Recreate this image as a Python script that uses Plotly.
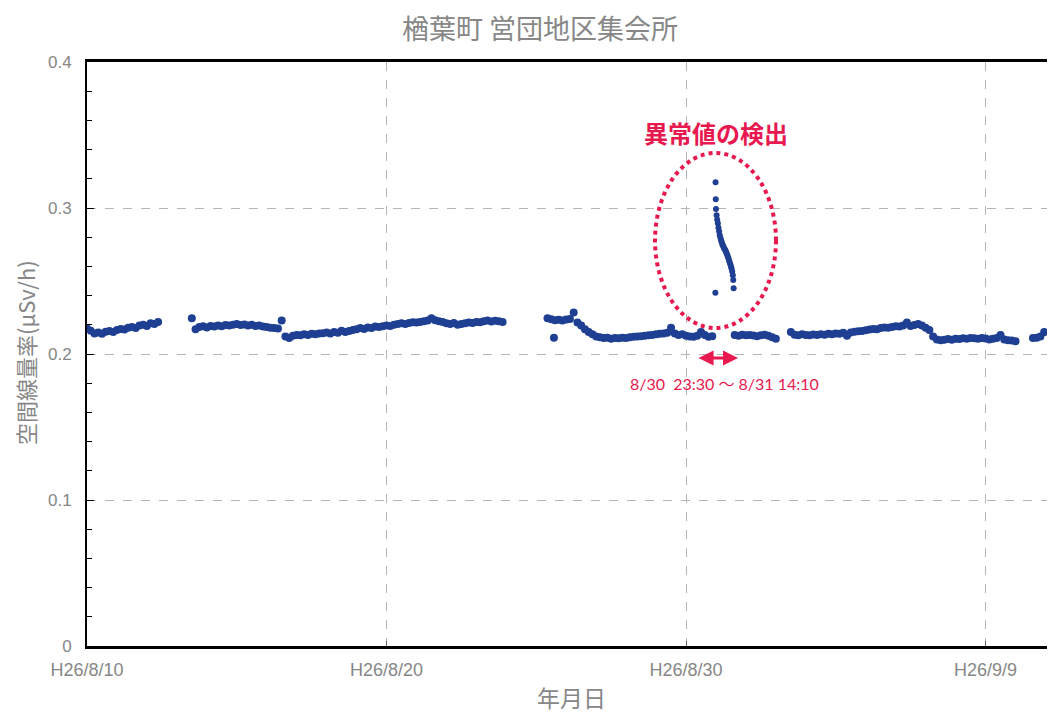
import pandas as pd
import plotly.graph_objects as go

# ---------------- data ----------------
title_text = "楢葉町 営団地区集会所"
x_title = "年月日"
y_title = "空間線量率(μSv/h)"

x_tick_dates = ["2014-08-10", "2014-08-20", "2014-08-30", "2014-09-09"]
x_tick_labels = ["H26/8/10", "H26/8/20", "H26/8/30", "H26/9/9"]
y_tick_vals = [0, 0.1, 0.2, 0.3, 0.4]
y_tick_labels = ["0", "0.1", "0.2", "0.3", "0.4"]

sample_step = "3h"

seg_a_start = "2014-08-10 00:00"
seg_a_vals = [0.2175, 0.2160, 0.2140, 0.2148, 0.2138, 0.2152, 0.2158, 0.2150, 0.2165, 0.2172,
              0.2168, 0.2180, 0.2185, 0.2178, 0.2195, 0.2200, 0.2192, 0.2210, 0.2205, 0.2220]

seg_b_start = "2014-08-13 12:00"
seg_b_vals = [0.2245, 0.2170, 0.2185, 0.2190, 0.2182, 0.2192, 0.2188, 0.2195, 0.2190, 0.2198,
              0.2195, 0.2200, 0.2205, 0.2198, 0.2202, 0.2196, 0.2200, 0.2192, 0.2195, 0.2188,
              0.2185, 0.2180, 0.2178, 0.2175, 0.2230, 0.2120, 0.2110, 0.2125, 0.2130, 0.2128,
              0.2135, 0.2130, 0.2138, 0.2135, 0.2140, 0.2142, 0.2148, 0.2140, 0.2150, 0.2146,
              0.2160, 0.2150, 0.2158, 0.2165, 0.2170, 0.2178, 0.2172, 0.2182, 0.2178, 0.2188,
              0.2185, 0.2190, 0.2195, 0.2192, 0.2200, 0.2205, 0.2210, 0.2205, 0.2212, 0.2218,
              0.2215, 0.2220, 0.2225, 0.2230, 0.2245, 0.2232, 0.2225, 0.2220, 0.2210, 0.2205,
              0.2212, 0.2200, 0.2205, 0.2210, 0.2215, 0.2212, 0.2220, 0.2218, 0.2225, 0.2230,
              0.2222, 0.2228, 0.2225, 0.2220]

seg_c_start = "2014-08-25 09:00"
seg_c_vals = [0.2245, 0.2238, 0.2232, 0.2235, 0.2230, 0.2236, 0.2240, 0.2285, 0.2215, 0.2195,
              0.2170, 0.2150, 0.2135, 0.2120, 0.2115, 0.2110, 0.2112, 0.2105, 0.2110, 0.2108,
              0.2112, 0.2110, 0.2115, 0.2118, 0.2120, 0.2122, 0.2125, 0.2128, 0.2130, 0.2135,
              0.2138, 0.2140, 0.2145, 0.2180, 0.2140, 0.2130, 0.2135, 0.2125, 0.2120, 0.2118,
              0.2125, 0.2150, 0.2130, 0.2118, 0.2122]

seg_d_start = "2014-08-31 15:00"
seg_d_vals = [0.2130, 0.2125, 0.2132, 0.2128, 0.2130, 0.2126, 0.2122, 0.2128, 0.2132, 0.2125,
              0.2115, 0.2105]

seg_e_start = "2014-09-02 12:00"
seg_e_vals = [0.2150, 0.2132, 0.2128, 0.2135, 0.2130, 0.2128, 0.2134, 0.2130, 0.2136, 0.2132,
              0.2138, 0.2135, 0.2140, 0.2138, 0.2145, 0.2125, 0.2148, 0.2152, 0.2155, 0.2158,
              0.2162, 0.2168, 0.2172, 0.2170, 0.2178, 0.2182, 0.2180, 0.2185, 0.2190, 0.2188,
              0.2195, 0.2215, 0.2192, 0.2198, 0.2205, 0.2195, 0.2180, 0.2165, 0.2120, 0.2100,
              0.2095, 0.2098, 0.2102, 0.2098, 0.2105, 0.2102, 0.2108, 0.2105, 0.2110, 0.2108,
              0.2105, 0.2110, 0.2106, 0.2100, 0.2104, 0.2110, 0.2130, 0.2100, 0.2095, 0.2092,
              0.2088]

seg_f_start = "2014-09-10 14:00"
seg_f_vals = [0.2110, 0.2112, 0.2120, 0.2150]

extra_times = ["2014-08-25 14:10"]
extra_vals = [0.2112]

spike_times = ["2014-08-30 23:30", "2014-08-30 23:40", "2014-08-30 23:50", "2014-08-31 00:00",
               "2014-08-31 00:30", "2014-08-31 01:00", "2014-08-31 01:30", "2014-08-31 02:00",
               "2014-08-31 02:30", "2014-08-31 03:00", "2014-08-31 03:30", "2014-08-31 04:00",
               "2014-08-31 04:30", "2014-08-31 05:00", "2014-08-31 05:30", "2014-08-31 06:00",
               "2014-08-31 06:30", "2014-08-31 07:00", "2014-08-31 07:30", "2014-08-31 08:00",
               "2014-08-31 08:30", "2014-08-31 09:00", "2014-08-31 09:30", "2014-08-31 10:00",
               "2014-08-31 10:30", "2014-08-31 11:00", "2014-08-31 11:30", "2014-08-31 12:00",
               "2014-08-31 12:30", "2014-08-31 13:00", "2014-08-31 13:30", "2014-08-31 13:50",
               "2014-08-31 14:10"]
spike_vals = [0.2420, 0.3176, 0.3060, 0.2993,
              0.2950, 0.2920, 0.2895, 0.2865,
              0.2840, 0.2815, 0.2798, 0.2782,
              0.2768, 0.2755, 0.2745, 0.2735,
              0.2725, 0.2718, 0.2710, 0.2700,
              0.2690, 0.2680, 0.2668, 0.2655,
              0.2640, 0.2628, 0.2615, 0.2600,
              0.2585, 0.2565, 0.2540, 0.2507,
              0.2450]

anomaly_label = "異常値の検出"
anomaly_period = "8/30  23:30 ～ 8/31 14:10"

# ---------------- build series ----------------
segments = [(seg_a_start, seg_a_vals), (seg_b_start, seg_b_vals), (seg_c_start, seg_c_vals),
            (seg_d_start, seg_d_vals), (seg_e_start, seg_e_vals), (seg_f_start, seg_f_vals)]
main_times = []
main_vals = []
for start, v in segments:
    main_times += list(pd.date_range(start, periods=len(v), freq=sample_step))
    main_vals += v
main_times += list(pd.to_datetime(extra_times))
main_vals += extra_vals

RED = "#e8194f"
BLUE = "#1e3f92"
GRAY = "#878787"

FIG_W, FIG_H = 1047, 705  # page body has an 8px margin

fig = go.Figure()
fig.add_trace(go.Scatter(x=main_times, y=main_vals, mode="markers",
                         marker=dict(color=BLUE, size=8, line=dict(width=0)),
                         showlegend=False, hoverinfo="x+y"))
fig.add_trace(go.Scatter(x=list(pd.to_datetime(spike_times)), y=spike_vals, mode="markers",
                         marker=dict(color=BLUE, size=6, line=dict(width=0)),
                         showlegend=False, hoverinfo="x+y"))

# dotted ellipse around the anomaly
fig.add_shape(type="circle", xref="x", yref="y",
              x0="2014-08-28 23:10", x1="2014-09-02 00:05", y0=0.2178, y1=0.3377,
              line=dict(color=RED, width=4, dash="4px,4px"))

# double-headed arrow for the period
fig.add_annotation(x="2014-08-31 17:40", y=0.1973, ax="2014-08-30 08:50", ay=0.1973,
                   xref="x", yref="y", axref="x", ayref="y", text="",
                   showarrow=True, arrowhead=2, arrowsize=1, arrowwidth=3,
                   arrowcolor=RED, arrowside="end+start", startarrowhead=2, startarrowsize=1)
fig.add_annotation(x="2014-08-31 07:10", y=0.1801, xref="x", yref="y", text=anomaly_period,
                   showarrow=False, font=dict(family="Lato, Noto Sans CJK JP", size=16, color=RED))
fig.add_annotation(x="2014-08-31 00:00", y=0.3514, xref="x", yref="y", text="<b>" + anomaly_label + "</b>",
                   showarrow=False, font=dict(family="Noto Sans CJK JP", size=24, color=RED))

# axis titles
fig.add_annotation(x=0.5, y=-0.0873, xref="paper", yref="paper", text=x_title, showarrow=False,
                   xanchor="center", yanchor="middle",
                   font=dict(family="Noto Sans CJK JP", size=23, color=GRAY))
fig.add_annotation(x=-0.064, y=0.5017, xref="paper", yref="paper", text=y_title, showarrow=False,
                   textangle=-90, xanchor="center", yanchor="middle",
                   font=dict(family="Noto Sans CJK JP", size=22, color=GRAY))

fig.update_layout(
    width=FIG_W, height=FIG_H,
    margin=dict(l=79, r=0, t=54, b=67),
    paper_bgcolor="white", plot_bgcolor="white",
    title=dict(text=title_text, x=532 / FIG_W, xref="container", xanchor="center",
               y=1 - 22 / FIG_H, yref="container", yanchor="middle",
               font=dict(family="Noto Sans CJK JP", size=27, color=GRAY)),
    showlegend=False,
)
fig.update_xaxes(type="date", range=["2014-08-10 00:00", "2014-09-11 07:40"],
                 tickmode="array", tickvals=x_tick_dates, ticktext=x_tick_labels,
                 tickfont=dict(family="Liberation Sans", size=18, color=GRAY),
                 ticklabelstandoff=5,
                 showline=True, linecolor="black", linewidth=3, mirror=True,
                 ticks="inside", ticklen=5, tickcolor="#666",
                 showgrid=True, gridcolor="#b5b5b5", gridwidth=1, griddash="dash",
                 zeroline=False)
fig.update_yaxes(range=[0, 0.4], tickmode="array", tickvals=y_tick_vals, ticktext=y_tick_labels,
                 tickfont=dict(family="Liberation Sans", size=17, color=GRAY),
                 ticklabelstandoff=10,
                 showline=True, linecolor="black", linewidth=2,
                 ticks="inside", ticklen=7, tickcolor="black",
                 minor=dict(dtick=0.02, tick0=0, ticks="inside", ticklen=5, tickcolor="black",
                            showgrid=False),
                 showgrid=True, gridcolor="#b5b5b5", gridwidth=1, griddash="dash",
                 zeroline=False)

fig.write_html("out.html")
